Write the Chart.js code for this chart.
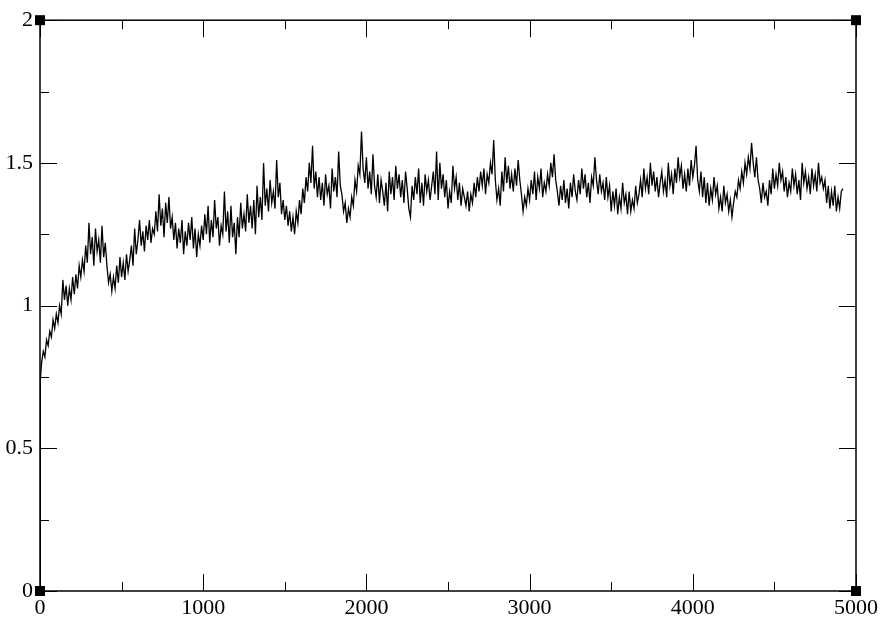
<!DOCTYPE html>
<html>
<head>
<meta charset="utf-8">
<script src="https://cdn.jsdelivr.net/npm/chart.js@4/dist/chart.umd.min.js"></script>
<style>
  html, body { margin: 0; padding: 0; background: #fff; }
  #wrap { width: 895px; height: 643px; }
</style>
</head>
<body>
<div id="wrap"><canvas id="plot" width="895" height="643"></canvas></div>
<script>
// first samples (vertical jump at t = 0)
const startTimes = [0, 2];
const startValues = [0, 0.74];

// one sample every 10 steps from t = 10 up to t = 4920
const STEP = 10;
const noisyValues = [
    0.80, 0.84, 0.82, 0.88, 0.86, 0.91, 0.89, 0.95, 0.92, 0.97, 0.94, 1.00, 0.97, 1.09, 1.02, 1.07, 1.00, 1.06, 1.02, 1.10, // 10-200
    1.04, 1.11, 1.06, 1.14, 1.10, 1.16, 1.12, 1.21, 1.15, 1.29, 1.18, 1.24, 1.14, 1.27, 1.19, 1.23, 1.15, 1.28, 1.17, 1.22, // 210-400
    1.14, 1.08, 1.11, 1.05, 1.10, 1.06, 1.14, 1.08, 1.17, 1.10, 1.15, 1.09, 1.18, 1.12, 1.16, 1.21, 1.14, 1.27, 1.18, 1.23, // 410-600
    1.30, 1.21, 1.26, 1.19, 1.28, 1.23, 1.30, 1.22, 1.27, 1.25, 1.33, 1.26, 1.39, 1.28, 1.34, 1.24, 1.36, 1.29, 1.38, 1.27, // 610-800
    1.31, 1.23, 1.29, 1.20, 1.27, 1.22, 1.30, 1.18, 1.26, 1.21, 1.29, 1.23, 1.31, 1.20, 1.27, 1.17, 1.25, 1.21, 1.28, 1.23, // 810-1000
    1.32, 1.25, 1.35, 1.22, 1.30, 1.24, 1.37, 1.27, 1.31, 1.21, 1.28, 1.25, 1.40, 1.26, 1.33, 1.22, 1.35, 1.24, 1.29, 1.18, // 1010-1200
    1.31, 1.24, 1.36, 1.27, 1.32, 1.26, 1.39, 1.29, 1.35, 1.27, 1.37, 1.25, 1.42, 1.31, 1.38, 1.30, 1.50, 1.35, 1.41, 1.33, // 1210-1400
    1.44, 1.36, 1.40, 1.34, 1.51, 1.38, 1.43, 1.32, 1.37, 1.30, 1.35, 1.28, 1.33, 1.26, 1.31, 1.25, 1.33, 1.29, 1.37, 1.32, // 1410-1600
    1.41, 1.36, 1.45, 1.40, 1.50, 1.43, 1.56, 1.41, 1.47, 1.38, 1.45, 1.37, 1.43, 1.35, 1.46, 1.39, 1.42, 1.34, 1.48, 1.40, // 1610-1800
    1.45, 1.38, 1.54, 1.42, 1.39, 1.33, 1.36, 1.29, 1.34, 1.31, 1.38, 1.35, 1.44, 1.40, 1.49, 1.46, 1.61, 1.48, 1.43, 1.52, // 1810-2000
    1.41, 1.47, 1.39, 1.53, 1.42, 1.38, 1.46, 1.36, 1.44, 1.40, 1.35, 1.43, 1.33, 1.47, 1.39, 1.45, 1.37, 1.49, 1.41, 1.46, // 2010-2200
    1.38, 1.44, 1.36, 1.47, 1.41, 1.34, 1.31, 1.42, 1.37, 1.45, 1.39, 1.48, 1.36, 1.43, 1.35, 1.46, 1.40, 1.44, 1.37, 1.42, // 2210-2400
    1.47, 1.39, 1.54, 1.37, 1.50, 1.41, 1.46, 1.38, 1.44, 1.34, 1.40, 1.36, 1.49, 1.41, 1.45, 1.37, 1.43, 1.35, 1.41, 1.38, // 2410-2600
    1.35, 1.40, 1.33, 1.39, 1.36, 1.43, 1.38, 1.45, 1.40, 1.47, 1.42, 1.48, 1.39, 1.46, 1.43, 1.50, 1.46, 1.58, 1.44, 1.37, // 2610-2800
    1.41, 1.35, 1.47, 1.40, 1.52, 1.43, 1.49, 1.41, 1.46, 1.40, 1.48, 1.42, 1.51, 1.44, 1.39, 1.33, 1.38, 1.35, 1.41, 1.37, // 2810-3000
    1.44, 1.39, 1.47, 1.37, 1.45, 1.41, 1.48, 1.38, 1.43, 1.40, 1.46, 1.42, 1.50, 1.45, 1.53, 1.44, 1.40, 1.35, 1.42, 1.37, // 3010-3200
    1.44, 1.36, 1.41, 1.34, 1.43, 1.38, 1.46, 1.40, 1.37, 1.44, 1.39, 1.48, 1.41, 1.46, 1.38, 1.43, 1.36, 1.45, 1.42, 1.52, // 3210-3400
    1.44, 1.39, 1.46, 1.40, 1.43, 1.37, 1.45, 1.38, 1.42, 1.33, 1.40, 1.35, 1.41, 1.32, 1.38, 1.34, 1.43, 1.36, 1.39, 1.32, // 3410-3600
    1.40, 1.33, 1.37, 1.34, 1.42, 1.36, 1.39, 1.44, 1.38, 1.48, 1.41, 1.45, 1.39, 1.50, 1.42, 1.47, 1.40, 1.45, 1.38, 1.43, // 3610-3800
    1.47, 1.40, 1.44, 1.38, 1.50, 1.42, 1.46, 1.39, 1.48, 1.43, 1.52, 1.45, 1.49, 1.41, 1.46, 1.40, 1.48, 1.42, 1.51, 1.45, // 3810-4000
    1.49, 1.56, 1.44, 1.40, 1.47, 1.38, 1.45, 1.36, 1.43, 1.35, 1.41, 1.37, 1.45, 1.39, 1.42, 1.34, 1.38, 1.33, 1.42, 1.36, // 4010-4200
    1.39, 1.33, 1.37, 1.31, 1.36, 1.40, 1.38, 1.44, 1.41, 1.47, 1.43, 1.50, 1.46, 1.52, 1.48, 1.57, 1.50, 1.45, 1.52, 1.44, // 4210-4400
    1.41, 1.36, 1.43, 1.38, 1.40, 1.35, 1.44, 1.39, 1.48, 1.41, 1.46, 1.42, 1.50, 1.44, 1.47, 1.40, 1.45, 1.38, 1.43, 1.40, // 4410-4600
    1.48, 1.42, 1.46, 1.39, 1.44, 1.37, 1.50, 1.43, 1.47, 1.41, 1.45, 1.39, 1.48, 1.42, 1.46, 1.40, 1.50, 1.43, 1.45, 1.41, // 4610-4800
    1.44, 1.36, 1.42, 1.34, 1.40, 1.35, 1.42, 1.33, 1.38, 1.34, 1.40, 1.41                                                  // 4810-4920
];

const xMajorTicks = [0, 1000, 2000, 3000, 4000, 5000];
const xMinorTicks = [500, 1500, 2500, 3500, 4500];
const yMajorTicks = [0, 0.5, 1, 1.5, 2];
const yMinorTicks = [0.25, 0.75, 1.25, 1.75];

const times = startTimes.concat(noisyValues.map((_, i) => STEP * (i + 1)));
const values = startValues.concat(noisyValues);
const points = times.map((t, i) => ({ x: t, y: values[i] }));

const FONT = { family: '"Liberation Serif", "DejaVu Serif", serif', size: 22 };

// frame, inward ticks on all four sides, corner handles
const frameAndTicks = {
    id: 'frameAndTicks',
    afterDraw(chart) {
        const { ctx, chartArea: a, scales: { x, y } } = chart;
        ctx.save();
        ctx.strokeStyle = '#000';
        ctx.lineWidth = 1;
        ctx.beginPath();
        const xTick = (v, len) => {
            const px = Math.round(x.getPixelForValue(v)) + 0.5;
            ctx.moveTo(px, a.bottom); ctx.lineTo(px, a.bottom - len);
            ctx.moveTo(px, a.top); ctx.lineTo(px, a.top + len);
        };
        const yTick = (v, len) => {
            const py = Math.round(y.getPixelForValue(v)) + 0.5;
            ctx.moveTo(a.left, py); ctx.lineTo(a.left + len, py);
            ctx.moveTo(a.right, py); ctx.lineTo(a.right - len, py);
        };
        xMajorTicks.forEach(v => xTick(v, 17));
        xMinorTicks.forEach(v => xTick(v, 9));
        yMajorTicks.forEach(v => yTick(v, 17));
        yMinorTicks.forEach(v => yTick(v, 9));
        ctx.stroke();

        ctx.lineWidth = 1.5;
        ctx.strokeRect(a.left, a.top, a.right - a.left, a.bottom - a.top);

        ctx.fillStyle = '#000';
        [[a.left, a.top], [a.right, a.top], [a.left, a.bottom], [a.right, a.bottom]].forEach(([cx, cy]) => {
            ctx.fillRect(cx - 5, cy - 5, 10, 10);
        });
        ctx.restore();
    }
};

new Chart(document.getElementById('plot'), {
    type: 'line',
    data: {
        datasets: [{
            data: points,
            borderColor: '#000',
            borderWidth: 1.3,
            pointRadius: 0,
            tension: 0,
            fill: false
        }]
    },
    options: {
        responsive: false,
        animation: false,
        devicePixelRatio: 1,
        layout: { padding: { top: 19, right: 39, left: 0, bottom: 0 } },
        plugins: { legend: { display: false }, tooltip: { enabled: false } },
        scales: {
            x: {
                type: 'linear',
                min: 0,
                max: 5000,
                afterFit: (scale) => { scale.height = 52; },
                afterBuildTicks: (scale) => { scale.ticks = xMajorTicks.map(v => ({ value: v })); },
                grid: { display: false, drawTicks: false },
                border: { display: false },
                ticks: {
                    autoSkip: false,
                    maxRotation: 0,
                    padding: 4,
                    color: '#000',
                    font: FONT,
                    callback: (v) => String(v)
                }
            },
            y: {
                type: 'linear',
                min: 0,
                max: 2,
                afterFit: (scale) => { scale.width = 40; },
                afterBuildTicks: (scale) => { scale.ticks = yMajorTicks.map(v => ({ value: v })); },
                grid: { display: false, drawTicks: false },
                border: { display: false },
                ticks: {
                    autoSkip: false,
                    padding: 7,
                    color: '#000',
                    font: FONT,
                    callback: (v) => String(v)
                }
            }
        }
    },
    plugins: [frameAndTicks]
});
</script>
</body>
</html>
